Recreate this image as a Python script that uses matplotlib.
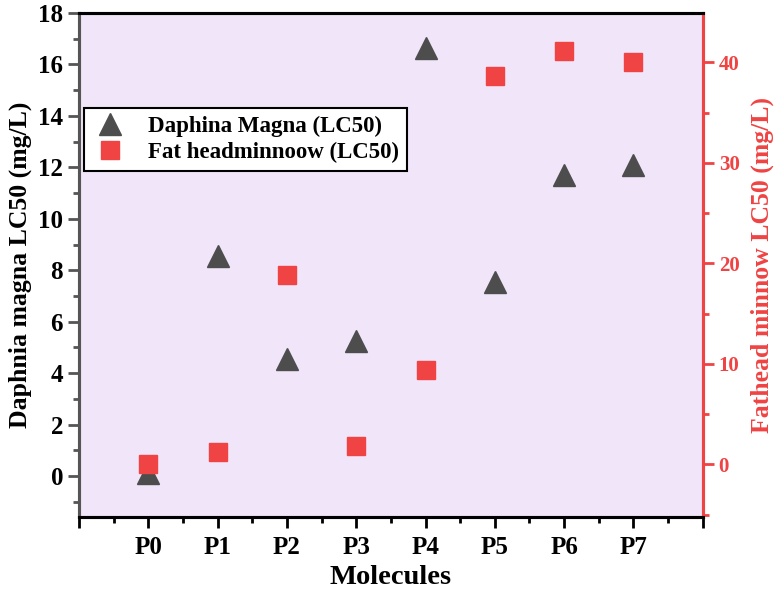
import numpy as np
import matplotlib.pyplot as plt
from matplotlib.ticker import MultipleLocator, FixedLocator

plt.rcParams['font.family'] = ['Liberation Serif', 'DejaVu Serif']
plt.rcParams['font.weight'] = 'bold'

molecules = ['P0', 'P1', 'P2', 'P3', 'P4', 'P5', 'P6', 'P7']
daphnia = [0.1, 8.55, 4.55, 5.25, 16.65, 7.55, 11.7, 12.1]
fathead = [0.0, 1.2, 18.85, 1.8, 9.35, 38.65, 41.1, 40.05]

red = '#f04343'
grey = '#4d4d4d'

fig = plt.figure(figsize=(7.79, 5.89), dpi=100)
ax1 = fig.add_axes([79/779, 1-516.7/589, (702.7-79)/779, (516.7-13)/589])
ax2 = ax1.twinx()

ax1.set_facecolor('#f1e5f9')
x = np.arange(len(molecules))

ax1.plot(x, daphnia, ls='none', marker='^', ms=16, color=grey, mec=grey,
         label='Daphina Magna (LC50)')
ax2.plot(x, fathead, ls='none', marker='s', ms=13.5, color=red, mec=red,
         label='Fat headminnoow (LC50)')

ax1.set_xlim(-1, 8)
ax1.set_ylim(-1.58, 18)
ax2.set_ylim(-5.2, 44.9)

ax1.xaxis.set_major_locator(FixedLocator(range(-1, 9)))
ax1.set_xticklabels([''] + molecules + [''])
ax1.xaxis.set_minor_locator(MultipleLocator(0.5))
ax1.yaxis.set_major_locator(MultipleLocator(2))
ax1.yaxis.set_minor_locator(MultipleLocator(1))
ax2.yaxis.set_major_locator(MultipleLocator(10))
ax2.yaxis.set_minor_locator(MultipleLocator(5))

ax1.tick_params(axis='x', which='major', length=8, width=2, labelsize=18, color='black', pad=6)
ax1.tick_params(axis='x', which='minor', length=4, width=2, color='black')
ax1.tick_params(axis='y', which='major', length=8, width=2, labelsize=18, color='#555555')
ax1.tick_params(axis='y', which='minor', length=4, width=2, color='#555555')
ax2.tick_params(axis='y', which='major', length=8, width=2, labelsize=15, colors=red)
ax2.tick_params(axis='y', which='minor', length=4, width=2, color=red)

for a in (ax1, ax2):
    for s in a.spines.values():
        s.set_linewidth(2.2)
ax1.spines['left'].set_color('#555555')
ax2.spines['left'].set_color('#555555')
ax2.spines['right'].set_color(red)
ax2.spines['top'].set_color('black')
ax2.spines['bottom'].set_color('black')

ax1.set_xlabel('Molecules', fontsize=20.5, fontweight='bold', labelpad=4)
ax1.set_ylabel('Daphnia magna LC50 (mg/L)', fontsize=18.5, fontweight='bold', labelpad=4)
ax2.set_ylabel('Fathead minnow LC50 (mg/L)', fontsize=18.5, fontweight='bold', color=red, labelpad=8)

h1, l1 = ax1.get_legend_handles_labels()
h2, l2 = ax2.get_legend_handles_labels()
leg = ax2.legend(h1 + h2, l1 + l2, loc='upper left',
                 bbox_to_anchor=(84/779, 1-108/589), bbox_transform=fig.transFigure,
                 borderaxespad=0, fancybox=False, framealpha=1, edgecolor='black',
                 fontsize=16.5, handletextpad=0.85, borderpad=0.35, labelspacing=0.2,
                 handlelength=1.6)
leg.get_frame().set_linewidth(1.5)
for t in leg.get_texts():
    t.set_fontweight('bold')

fig.savefig('out.png', dpi=100)
